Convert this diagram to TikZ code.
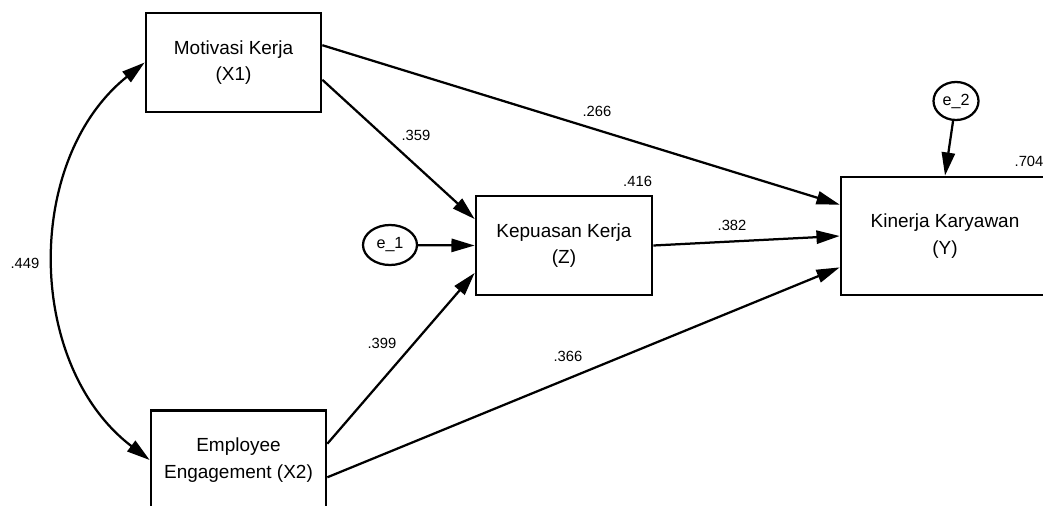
\documentclass[tikz,border=0pt]{standalone}
\usepackage{fontspec}
\setmainfont{Liberation Sans}
\usetikzlibrary{arrows.meta,calc,shapes.geometric}
\tikzset{
  obsvar/.style={draw, line width=1.9pt, align=center, inner sep=2pt, minimum width=43.75mm, minimum height=24.75mm, font=\fontsize{13.5}{19}\selectfont},
  errvar/.style={draw, ellipse, line width=1.6pt, inner sep=0pt, font=\fontsize{11.5}{14}\selectfont},
  arrow/.style={-{Triangle[length=5.8mm, width=3.3mm]}, line width=1.6pt},
  twoway/.style={{Triangle[length=5.8mm, width=3.3mm]}-{Triangle[length=5.8mm, width=3.3mm]}, line width=1.6pt},
  coef/.style={inner sep=0pt, font=\fontsize{10.5}{12}\selectfont}
}

\begin{document}
\begin{tikzpicture}
  \useasboundingbox (0,0) rectangle (26.075,-12.65);

  \node[obsvar] (mot) at (5.8375,-1.5625) {Motivasi Kerja\\(X1)};
  \node[obsvar] (emp) at (5.9625,-11.5) {Employee\\Engagement (X2)};
  \node[obsvar, minimum width=44mm] (kep) at (14.1,-6.1375) {Kepuasan Kerja\\(Z)};
  \node[obsvar, minimum width=52mm, minimum height=29.5mm] (kin) at (23.625,-5.9) {Kinerja Karyawan\\(Y)};
  \node[errvar, minimum width=13.5mm, minimum height=10mm] (e1) at (9.75,-6.125) {e\_1};
  \node[errvar, minimum width=11.25mm, minimum height=9.5mm] (e2) at (23.9,-2.525) {e\_2};

  % regression paths
  \draw[arrow] ($(mot.north east)!0.33!(mot.south east)$) -- ($(kin.north west)!0.24!(kin.south west)$);
  \draw[arrow] ($(mot.north east)!0.67!(mot.south east)$) -- ($(kep.north west)!0.24!(kep.south west)$);
  \draw[arrow] ($(emp.north east)!0.34!(emp.south east)$) -- ($(kep.north west)!0.77!(kep.south west)$);
  \draw[arrow] ($(emp.north east)!0.67!(emp.south east)$) -- ($(kin.north west)!0.76!(kin.south west)$);
  \draw[arrow] (kep.east) -- (kin.west);
  \draw[arrow] (e1) -- (kep.west);
  \draw[arrow] (e2) -- (kin.north);

  % covariance
  \draw[twoway] (mot.west) to[bend right=52] (emp.west);

  \node[coef] (c449) at (0.625,-6.575) {.449};
  \node[coef] (c359) at (10.4,-3.375) {.359};
  \node[coef] (c266) at (14.925,-2.775) {.266};
  \node[coef] (c382) at (18.3,-5.625) {.382};
  \node[coef] (c399) at (9.55,-8.575) {.399};
  \node[coef] (c366) at (14.2,-8.9) {.366};
  \node[coef] (r416) at (15.94,-4.525) {.416};
  \node[coef] (r704) at (25.725,-4.025) {.704};
\end{tikzpicture}
\end{document}
